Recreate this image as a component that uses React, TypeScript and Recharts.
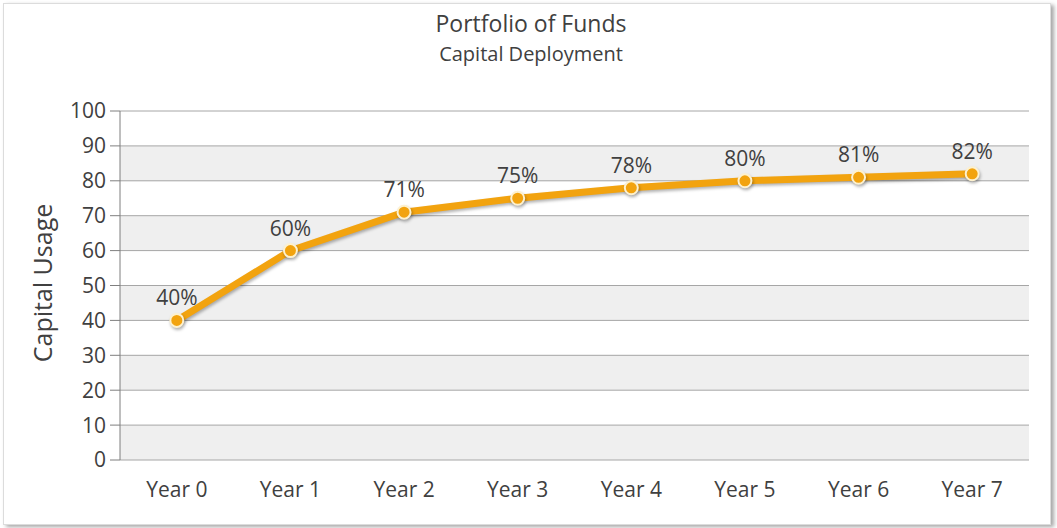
import React from 'react';
import { LineChart, Line, XAxis, YAxis, CartesianGrid, LabelList } from 'recharts';

const categories = ['Year 0', 'Year 1', 'Year 2', 'Year 3', 'Year 4', 'Year 5', 'Year 6', 'Year 7'];
const usage = [40, 60, 71, 75, 78, 80, 81, 82];
const yTicks = [0, 10, 20, 30, 40, 50, 60, 70, 80, 90, 100];
const boundaryTicks = [0, 1, 2, 3, 4, 5, 6, 7, 8];

const data = categories.map((c, i) => ({ year: c, usage: usage[i] }));

const FONT = '"Open Sans", "Noto Sans", sans-serif';
const TEXT = '#404040';
const LINE = '#F2A30F';

export default function App() {
  return (
    <div style={{ position: 'absolute', left: 0, top: 0, width: 1057, height: 528, background: '#fff', fontFamily: FONT }}>
      <div style={{ position: 'absolute', left: 3, top: 3, width: 1046, height: 520, border: '1px solid #dcdcdc', boxShadow: '3px 2px 4px rgba(0,0,0,0.35)' }} />
      <div style={{ position: 'absolute', left: 0, width: 1062, top: 8, textAlign: 'center', color: TEXT, fontSize: 23, lineHeight: '31px' }}>Portfolio of Funds</div>
      <div style={{ position: 'absolute', left: 0, width: 1062, top: 40, textAlign: 'center', color: TEXT, fontSize: 20, lineHeight: '27px' }}>Capital Deployment</div>
      <div style={{ position: 'absolute', left: 42, top: 283, transform: 'translate(-50%, -50%) rotate(-90deg)', whiteSpace: 'nowrap', color: TEXT, fontSize: 25 }}>Capital Usage</div>
      <div style={{ position: 'absolute', left: 0, top: 0 }}>
        <LineChart width={1057} height={528} data={data} margin={{ top: 111, right: 28, bottom: 28, left: 60 }}>
          <CartesianGrid vertical={false} stroke="#a6a6a6" horizontalFill={['#ffffff', '#efefef']} fillOpacity={1} />
          <XAxis
            xAxisId="cat"
            dataKey="year"
            scale="band"
            tickLine={false}
            axisLine={false}
            tick={{ fill: TEXT, fontSize: 21, fontFamily: FONT }}
            tickMargin={16}
            height={40}
          />
          <XAxis
            xAxisId="bounds"
            type="number"
            domain={[0, 8]}
            ticks={boundaryTicks}
            tick={false}
            tickSize={9}
            stroke="#7f7f7f"
            height={0}
          />
          <YAxis
            domain={[0, 100]}
            ticks={yTicks}
            width={60}
            tickSize={10}
            tickMargin={4}
            stroke="#7f7f7f"
            tick={{ fill: TEXT, fontSize: 21, fontFamily: FONT }}
            interval={0}
          />
          <Line
            xAxisId="cat"
            dataKey="usage"
            stroke={LINE}
            strokeWidth={7}
            isAnimationActive={false}
            style={{ filter: 'drop-shadow(1px 2px 1.5px rgba(0,0,0,0.3))' }}
            dot={{ r: 6.5, fill: LINE, stroke: '#fdf1cf', strokeWidth: 2 }}
          >
            <LabelList dataKey="usage" position="top" offset={15} formatter={(v: number) => `${v}%`} fill={TEXT} fontSize={21} fontFamily={FONT} />
          </Line>
        </LineChart>
      </div>
    </div>
  );
}
